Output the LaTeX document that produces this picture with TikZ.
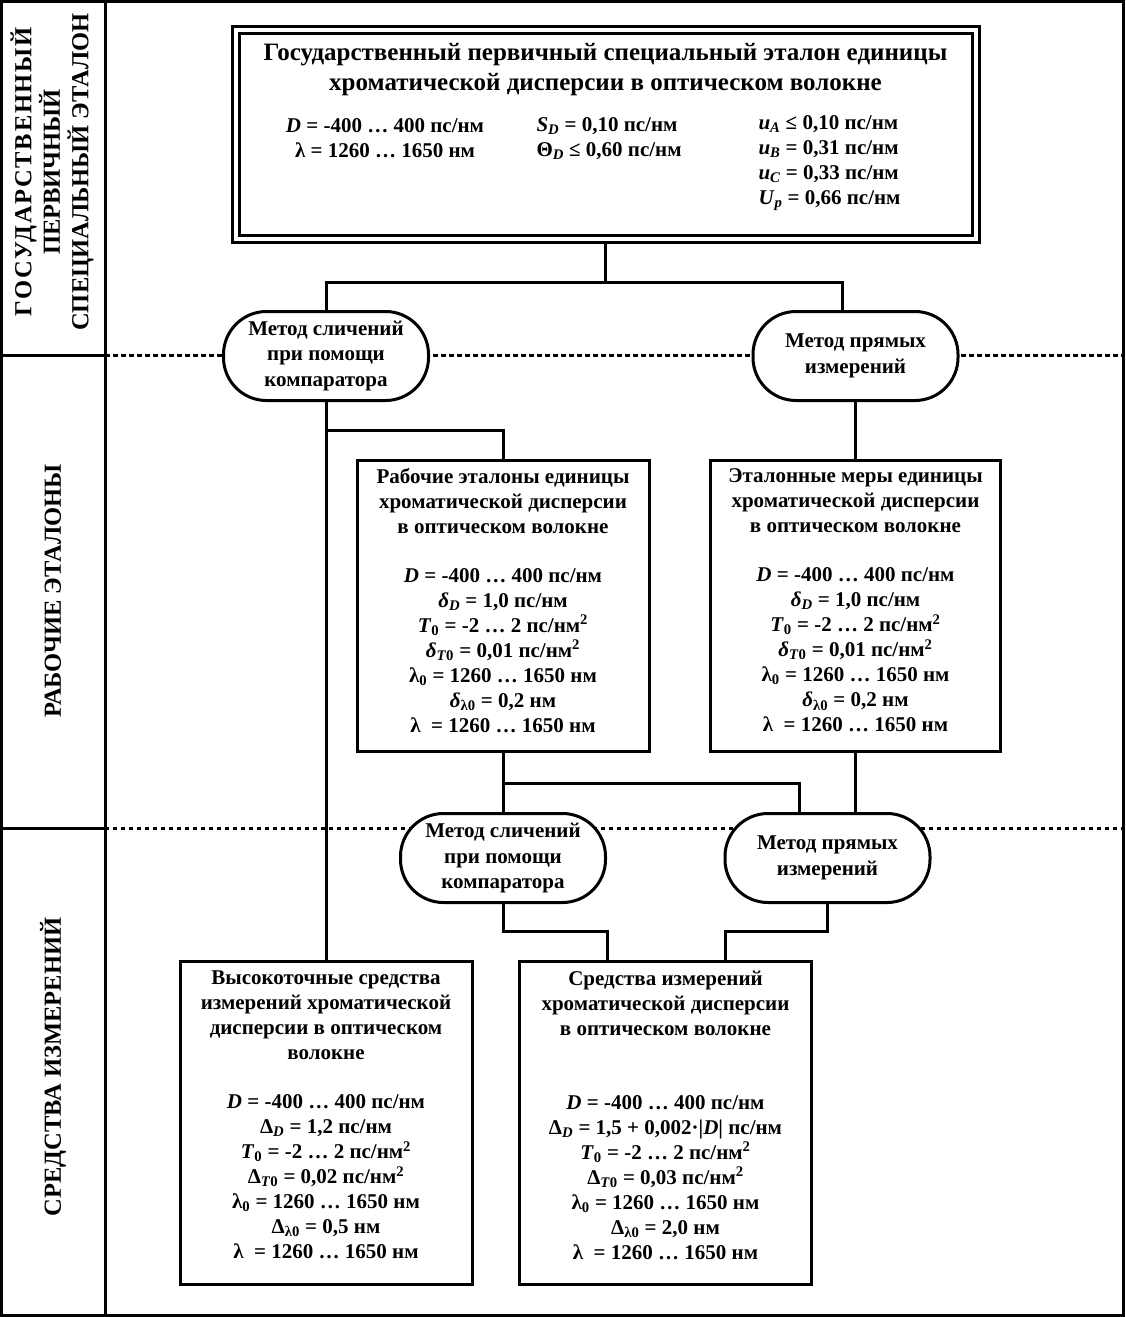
\documentclass[tikz,border=0pt]{standalone}
\usepackage{fontspec}
\setmainfont{Liberation Serif}
\usetikzlibrary{calc}
\newcommand\sbi[1]{\textsubscript{\textit{#1}}}
\newcommand\sbr[1]{\textsubscript{#1}}
\newcommand\sqr{\textsuperscript{2}}
\begin{document}
\begin{tikzpicture}[x=1pt,y=-1pt,line width=3pt,
  boxnode/.style={draw,line width=3pt,fill=white,inner sep=0pt},
  ovalnode/.style={draw,line width=3pt,fill=white,rounded corners=43pt,
    minimum width=205pt,minimum height=89pt,inner sep=0pt,align=center,
    font=\fontsize{21}{25.5}\selectfont\bfseries},
  txt/.style={align=center,inner sep=0pt,font=\fontsize{21}{25}\selectfont\bfseries},
  side/.style={rotate=90,align=center,inner sep=0pt,font=\fontsize{24.5}{28.5}\selectfont\bfseries},
  conn/.style={line width=3pt},
  dashA/.style={line width=3pt,dash pattern=on 5pt off 3pt},
  dashB/.style={line width=3pt,dash pattern=on 4pt off 4pt}]
\useasboundingbox (0,0) rectangle (1125,1317);

% frame and columns
\coordinate (fTL) at (1.5,1.5);
\coordinate (fBR) at (1123,1315);
\draw (fTL) rectangle (fBR);
\coordinate (dvT) at (105,1.5);
\coordinate (dvB) at (105,1315);
\draw (dvT) -- (dvB);
\coordinate (h1L) at (1.5,355);
\coordinate (h1M) at (105,355);
\coordinate (h1R) at (1123,355);
\coordinate (h2L) at (1.5,828);
\coordinate (h2M) at (105,828);
\coordinate (h2R) at (1123,828);
\draw (h1L) -- (h1M);
\draw (h2L) -- (h2M);
\draw[dashA] (h1M) -- (h1R);
\draw[dashB] (h2M) -- (h2R);

% side labels
\node[side] (lab1) at (52,172) {{\addfontfeature{LetterSpace=7}ГОСУДАРСТВЕННЫЙ}\\ПЕРВИЧНЫЙ\\СПЕЦИАЛЬНЫЙ ЭТАЛОН};
\node[side] (lab2) at (53,591) {РАБОЧИЕ ЭТАЛОНЫ};
\node[side] (lab3) at (53,1067) {СРЕДСТВА ИЗМЕРЕНИЙ};

% top box
\node[draw,fill=white,line width=3pt,double,double distance=4pt,outer sep=5pt,
  minimum width=740pt,minimum height=209pt,inner sep=0pt] (top) at (605.5,134) {};
\node[txt,font=\fontsize{25}{30}\selectfont\bfseries] (topT) at (605.5,70)
  {Государственный первичный специальный эталон единицы\\хроматической дисперсии в оптическом волокне};
\node[txt] (topC1) at (385,138.5)
  {\textit{D} = -400 … 400 пс/нм\\λ = 1260 … 1650 нм};
\node[txt,align=left,anchor=west] (topC2) at (535,138.5)
  {\textit{S}\sbi{D} = 0,10 пс/нм\\Θ\sbi{D} ≤ 0,60 пс/нм};
\node[txt,align=left,anchor=west] (topC3) at (757,163.5)
  {\textit{u}\sbi{A} ≤ 0,10 пс/нм\\\textit{u}\sbi{B} = 0,31 пс/нм\\\textit{u}\sbi{C} = 0,33 пс/нм\\\textit{U}\sbi{p} = 0,66 пс/нм};

% ovals
\node[ovalnode] (ovL) at (326,356) {Метод сличений\\при помощи\\компаратора};
\node[ovalnode] (ovR) at (855.5,356) {Метод прямых\\измерений};
\node[ovalnode] (ovL2) at (503,858) {Метод сличений\\при помощи\\компаратора};
\node[ovalnode] (ovR2) at (827.5,858) {Метод прямых\\измерений};

% middle boxes
\node[boxnode,minimum width=292pt,minimum height=291pt] (rab) at (503,606) {};
\node[txt] (rabT) at (503,600.5) {Рабочие эталоны единицы\\хроматической дисперсии\\в оптическом волокне\\[24pt]
  \textit{D} = -400 … 400 пс/нм\\
  \textit{δ}\sbi{D} = 1,0 пс/нм\\
  \textit{T}\sbr{0} = -2 … 2 пс/нм\sqr\\
  \textit{δ}\textsubscript{\textit{T}0} = 0,01 пс/нм\sqr\\
  λ\sbr{0} = 1260 … 1650 нм\\
  \textit{δ}\sbr{λ0} = 0,2 нм\\
  λ~ = 1260 … 1650 нм};
\node[boxnode,minimum width=290pt,minimum height=291pt] (etm) at (855.5,606) {};
\node[txt] (etmT) at (855.5,600.5) {Эталонные меры единицы\\хроматической дисперсии\\в оптическом волокне\\[24pt]
  \textit{D} = -400 … 400 пс/нм\\
  \textit{δ}\sbi{D} = 1,0 пс/нм\\
  \textit{T}\sbr{0} = -2 … 2 пс/нм\sqr\\
  \textit{δ}\textsubscript{\textit{T}0} = 0,01 пс/нм\sqr\\
  λ\sbr{0} = 1260 … 1650 нм\\
  \textit{δ}\sbr{λ0} = 0,2 нм\\
  λ~ = 1260 … 1650 нм};

% bottom boxes
\node[boxnode,minimum width=292pt,minimum height=323pt] (bl) at (326,1122.5) {};
\node[txt] (blT) at (326,1115) {Высокоточные средства\\измерений хроматической\\дисперсии в оптическом\\волокне\\[24pt]
  \textit{D} = -400 … 400 пс/нм\\
  Δ\sbi{D} = 1,2 пс/нм\\
  \textit{T}\sbr{0} = -2 … 2 пс/нм\sqr\\
  Δ\textsubscript{\textit{T}0} = 0,02 пс/нм\sqr\\
  λ\sbr{0} = 1260 … 1650 нм\\
  Δ\sbr{λ0} = 0,5 нм\\
  λ~ = 1260 … 1650 нм};
\node[boxnode,minimum width=292pt,minimum height=323pt] (br) at (665.5,1122.5) {};
\node[txt] (brT) at (665.5,1115) {Средства измерений\\хроматической дисперсии\\в оптическом волокне\\[49pt]
  \textit{D} = -400 … 400 пс/нм\\
  Δ\sbi{D} = 1,5 + 0,002·|\textit{D}| пс/нм\\
  \textit{T}\sbr{0} = -2 … 2 пс/нм\sqr\\
  Δ\textsubscript{\textit{T}0} = 0,03 пс/нм\sqr\\
  λ\sbr{0} = 1260 … 1650 нм\\
  Δ\sbr{λ0} = 2,0 нм\\
  λ~ = 1260 … 1650 нм};

% connectors
\coordinate (j1) at (605.5,282);
\draw[conn] (top.south) -- (j1);
\draw[conn] (ovL.north) |- (j1);
\draw[conn] (j1) -| ([xshift=-13.5pt]ovR.north);
\draw[conn] (ovL.south) -- (bl.north);
\coordinate (j2) at (326,430);
\draw[conn] (j2) -| (rab.north);
\draw[conn] (ovR.south) -- (etm.north);
\draw[conn] (rab.south) -- (ovL2.north);
\coordinate (j3) at (503,783);
\draw[conn] (j3) -| ([xshift=-28.5pt]ovR2.north);
\draw[conn] (etm.south) -- (etm.south |- ovR2.north);
\coordinate (j4) at (503,931);
\draw[conn] (ovL2.south) -- (j4) -| ([xshift=-58.5pt]br.north);
\draw[conn] (ovR2.south) -- (ovR2.south |- j4) -| ([xshift=59.5pt]br.north);
\end{tikzpicture}
\end{document}
